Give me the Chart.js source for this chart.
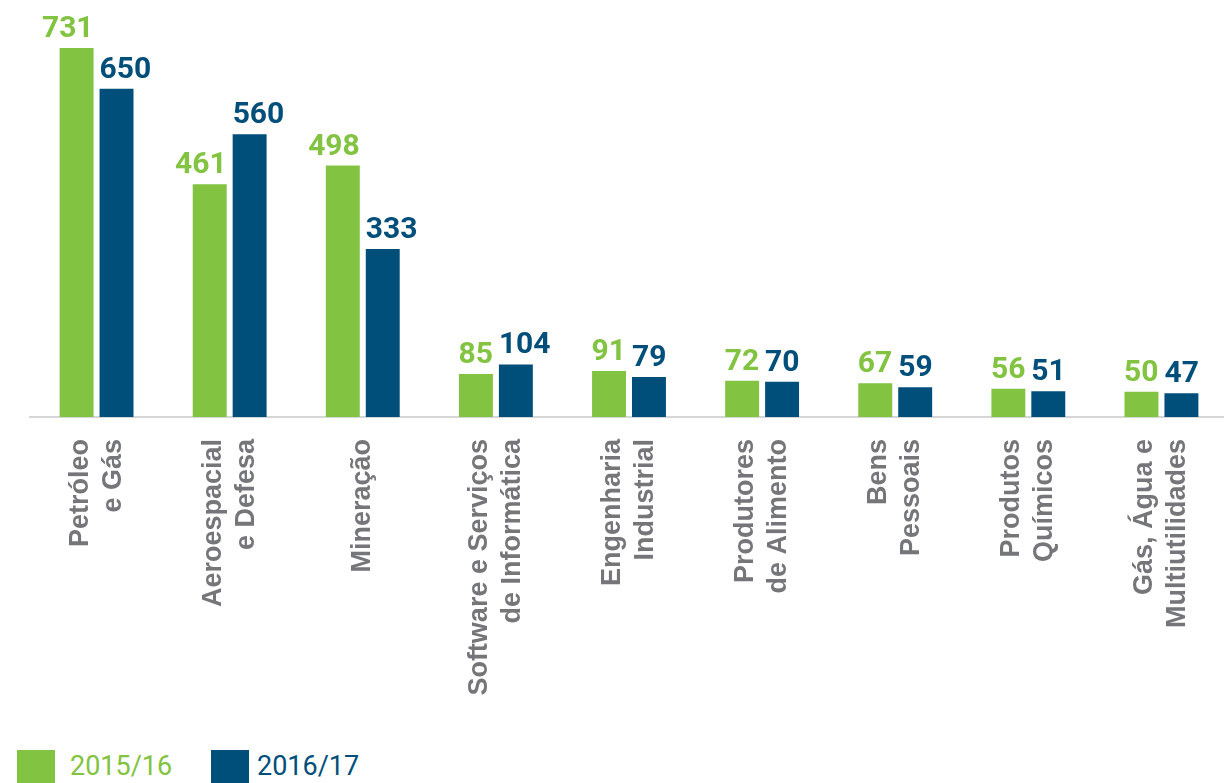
<!DOCTYPE html>
<html>
<head>
<meta charset="utf-8">
<script src="https://cdn.jsdelivr.net/npm/chart.js@4.4.1/dist/chart.umd.min.js"></script>
<style>
  html, body { margin: 0; padding: 0; background: #ffffff; overflow: hidden; width: 1224px; height: 783px; }
  #wrap { position: absolute; left: 0; top: 0; width: 1228px; height: 717px; }
  .lg-box { position: absolute; top: 750px; width: 38px; height: 38px; }
  .lg-text { position: absolute; top: 749px; font-family: Roboto, sans-serif; font-size: 27px; line-height: 34px; white-space: nowrap; }
</style>
</head>
<body>
<div id="wrap"><canvas id="c"></canvas></div>
<div class="lg-box" style="left:17px;background:#82c341"></div>
<div class="lg-text" style="left:70px;color:#82c341">2015/16</div>
<div class="lg-box" style="left:211px;background:#004f7a"></div>
<div class="lg-text" style="left:257px;color:#004f7a">2016/17</div>
<script>
// ---- data ----
const categories = [
  ["Petróleo", "e Gás"],
  ["Aeroespacial", "e Defesa"],
  ["Mineração"],
  ["Software e Serviços", "de Informática"],
  ["Engenharia", "Industrial"],
  ["Produtores", "de Alimento"],
  ["Bens", "Pessoais"],
  ["Produtos", "Químicos"],
  ["Gás, Água e", "Multiutilidades"]
];
const seriesNames = ["2015/16", "2016/17"];
const values1516 = [731, 461, 498, 85, 91, 72, 67, 56, 50];
const values1617 = [650, 560, 333, 104, 79, 70, 59, 51, 47];

const GREEN = '#82c341';
const BLUE = '#004f7a';
const GRAY = '#74767a';

const valueLabels = {
  id: 'valueLabels',
  afterDatasetsDraw(chart) {
    const ctx = chart.ctx;
    chart.data.datasets.forEach((ds, di) => {
      const meta = chart.getDatasetMeta(di);
      meta.data.forEach((bar, i) => {
        const p = bar.getProps(['x', 'y', 'width'], true);
        ctx.save();
        ctx.font = 'bold 30px Roboto';
        ctx.fillStyle = ds.backgroundColor;
        ctx.textBaseline = 'alphabetic';
        ctx.textAlign = di === 0 ? 'right' : 'left';
        const tx = di === 0 ? p.x + p.width / 2 : p.x - p.width / 2;
        ctx.fillText(String(ds.data[i]), tx, p.y - 11);
        ctx.restore();
      });
    });
  }
};

new Chart(document.getElementById('c'), {
  type: 'bar',
  data: {
    labels: categories,
    datasets: [
      { label: seriesNames[0], data: values1516, backgroundColor: GREEN, borderWidth: 0 },
      { label: seriesNames[1], data: values1617, backgroundColor: BLUE, borderWidth: 0 }
    ]
  },
  options: {
    responsive: true,
    maintainAspectRatio: false,
    animation: false,
    layout: { padding: { left: 30, right: 0, top: 0, bottom: 0 } },
    plugins: { legend: { display: false }, tooltip: { enabled: false } },
    datasets: { bar: { categoryPercentage: 0.6, barPercentage: 0.85 } },
    scales: {
      x: {
        grid: { display: false },
        border: { display: true, color: '#d6d6d6', width: 2 },
        afterFit: (s) => { s.height = 300; s.paddingLeft = 0; s.paddingRight = 0; },
        ticks: {
          autoSkip: false,
          minRotation: 90,
          maxRotation: 90,
          padding: 14,
          labelOffset: -16.5,
          color: GRAY,
          callback: function (v, i) {
            const lines = categories[i];
            return lines.length === 1 ? ["", lines[0]] : lines;
          },
          font: (c) => ({
            family: '"Liberation Sans", Arial, sans-serif',
            size: 27,
            weight: 'bold',
            lineHeight: categories[c.index] && categories[c.index].length === 1 ? '16.5px' : '33px'
          })
        }
      },
      y: {
        display: false,
        min: 0,
        max: 826
      }
    }
  },
  plugins: [valueLabels]
});
</script>
</body>
</html>
